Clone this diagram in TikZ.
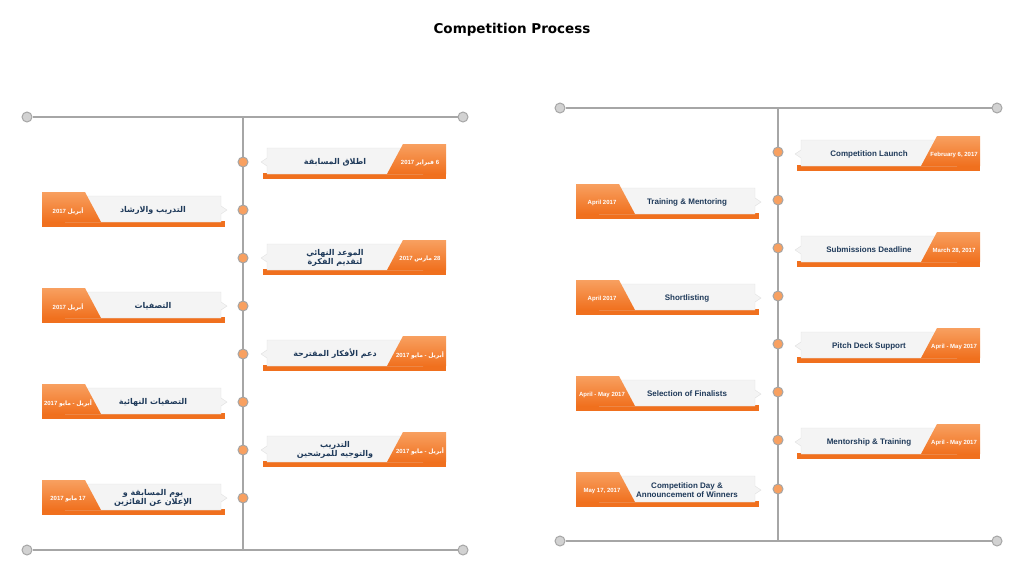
\documentclass[tikz,border=0pt]{standalone}
\usepackage{fontspec}
\setmainfont{Liberation Sans}
\newfontfamily\titlefont{DejaVu Sans}
\newfontfamily\arabicfont[Script=Arabic]{DejaVu Sans}
\TeXXeTstate=1
\newcommand\ar[1]{{\arabicfont\beginR #1\endR}}
\definecolor{org}{HTML}{F0701E}
\definecolor{orgl}{HTML}{F8A060}
\definecolor{txt}{HTML}{1F3A5A}
\tikzset{
 pnl/.style={fill=gray!9,draw=gray!25,line width=0.4pt},
 tab/.style={top color=orgl,bottom color=org,draw=none},
 strip/.style={fill=org,draw=none},
 mtxt/.style={font=\bfseries\fontsize{8}{9}\selectfont,text=txt,align=center},
 dtxt/.style={font=\bfseries\fontsize{6}{7}\selectfont,text=white,align=center},
 dot/.style={circle,minimum size=10pt,inner sep=0pt,fill=orgl,draw=gray!70,line width=1pt},
 endp/.style={circle,minimum size=10pt,inner sep=0pt,fill=gray!35,draw=gray!70,line width=1pt},
 axis/.style={draw=gray!70,line width=1.5pt}
}
% #1 name, #2 x of pointer edge, #3 y, #4 direction (1/-1), #5 main, #6 date
\newcommand\card[6]{%
 \begin{scope}[shift={(#2,#3)},xscale=#4]
  \fill[strip] (0,11) rectangle (183,17);
  \path[pnl] (4,-14) -- (160,-14) -- (160,12) -- (4,12) -- (4,4) -- (-2,0) -- (4,-4) -- cycle;
  \path[tab] (124,12) -- (140,-18) -- (183,-18) -- (183,12) -- cycle;
  \node[mtxt] (#1m) at (72,0) {#5};
  \node[dtxt] (#1d) at (157,1) {#6};
 \end{scope}}
\begin{document}
\begin{tikzpicture}[x=1pt,y=-1pt]
\useasboundingbox (0,0) rectangle (1024,584);
\node[font=\titlefont\bfseries\fontsize{13.5}{15}\selectfont] (title) at (512,30) {Competition Process};
% left timeline
\node[endp] (LA) at (27,117) {}; \node[endp] (LB) at (463,117) {};
\node[endp] (LC) at (27,550) {}; \node[endp] (LD) at (463,550) {};
\coordinate (LT) at (243,117); \coordinate (LBt) at (243,550);
\draw[axis] (LA) -- (LB); \draw[axis] (LC) -- (LD); \draw[axis] (LT) -- (LBt);
\card{l1}{263}{162}{1}{\ar{اطلاق المسابقة}}{2017 \ar{فبراير} 6}
\card{l2}{225}{210}{-1}{\ar{التدريب والارشاد}}{2017 \ar{أبريل}}
\card{l3}{263}{258}{1}{\ar{الموعد النهائي}\\\ar{لتقديم الفكرة}}{2017 \ar{مارس} 28}
\card{l4}{225}{306}{-1}{\ar{التصفيات}}{2017 \ar{أبريل}}
\card{l5}{263}{354}{1}{\ar{دعم الأفكار المقترحة}}{2017 \ar{مايو} - \ar{أبريل}}
\card{l6}{225}{402}{-1}{\ar{التصفيات النهائية}}{2017 \ar{مايو} - \ar{أبريل}}
\card{l7}{263}{450}{1}{\ar{التدريب}\\\ar{والتوجيه للمرشحين}}{2017 \ar{مايو} - \ar{أبريل}}
\card{l8}{225}{498}{-1}{\ar{يوم المسابقة و}\\\ar{الإعلان عن الفائزين}}{2017 \ar{مايو} 17}
\foreach \i/\y in {1/162,2/210,3/258,4/306,5/354,6/402,7/450,8/498} \node[dot] (ld\i) at (243,\y) {};
% right timeline
\node[endp] (RA) at (560,108) {}; \node[endp] (RB) at (997,108) {};
\node[endp] (RC) at (560,541) {}; \node[endp] (RD) at (997,541) {};
\coordinate (RT) at (778,108); \coordinate (RBt) at (778,541);
\draw[axis] (RA) -- (RB); \draw[axis] (RC) -- (RD); \draw[axis] (RT) -- (RBt);
\card{r1}{797}{154}{1}{Competition Launch}{February 6, 2017}
\card{r2}{759}{202}{-1}{Training \& Mentoring}{April 2017}
\card{r3}{797}{250}{1}{Submissions Deadline}{March 28, 2017}
\card{r4}{759}{298}{-1}{Shortlisting}{April 2017}
\card{r5}{797}{346}{1}{Pitch Deck Support}{April - May 2017}
\card{r6}{759}{394}{-1}{Selection of Finalists}{April - May 2017}
\card{r7}{797}{442}{1}{Mentorship \& Training}{April - May 2017}
\card{r8}{759}{490}{-1}{Competition Day \&\\Announcement of Winners}{May 17, 2017}
\foreach \i/\y in {1/152,2/200,3/248,4/296,5/344,6/392,7/440,8/489} \node[dot] (rd\i) at (778,\y) {};
\end{tikzpicture}
\end{document}
